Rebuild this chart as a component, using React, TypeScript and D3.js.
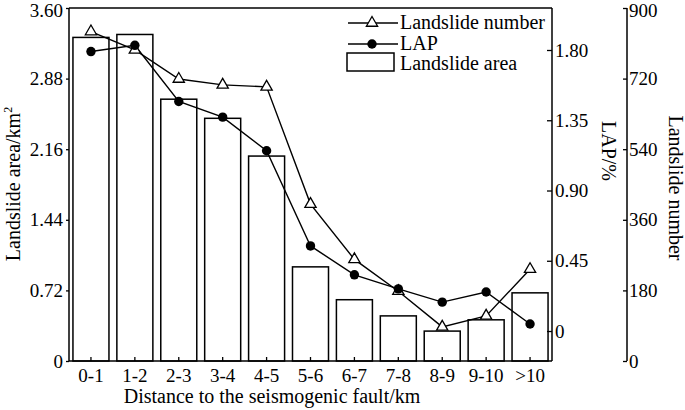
import React, { useEffect, useRef } from "react";
import * as d3 from "d3";

const categories = ["0-1", "1-2", "2-3", "3-4", "4-5", "5-6", "6-7", "7-8", "8-9", "9-10", ">10"];
const landslideArea = [3.30, 3.33, 2.67, 2.475, 2.09, 0.96, 0.625, 0.46, 0.305, 0.42, 0.695];
const lapValues = [1.79, 1.83, 1.47, 1.37, 1.155, 0.545, 0.36, 0.27, 0.185, 0.25, 0.045];
const landslideNumber = [840, 793, 719, 704, 699, 400, 259, 178, 87, 115, 234];
const areaTicks = [0, 0.72, 1.44, 2.16, 2.88, 3.6];
const lapTicks = [0, 0.45, 0.9, 1.35, 1.8];
const numberTicks = [0, 180, 360, 540, 720, 900];

const W = 685;
const H = 410;
const L = 69, R = 552, T = 8, B = 361;
const FONT = "'Liberation Serif', 'Times New Roman', serif";

export default function App() {
  const ref = useRef<SVGSVGElement>(null);

  useEffect(() => {
    const svg = d3.select(ref.current);
    svg.selectAll("*").remove();

    const x = d3.scaleBand<string>().domain(categories).range([L, R]).paddingInner(0.18).paddingOuter(0.09);
    const cx = (c: string) => (x(c) as number) + x.bandwidth() / 2;
    const yArea = d3.scaleLinear().domain([0, 3.6]).range([B, T]);
    const yLap = d3.scaleLinear().domain([-0.192, 2.069]).range([B, T]);
    const yNum = d3.scaleLinear().domain([0, 900]).range([B, T]);

    const g = svg.append("g").attr("font-family", FONT).attr("fill", "#000");

    // bars
    g.selectAll("rect.bar")
      .data(categories)
      .join("rect")
      .attr("class", "bar")
      .attr("x", (c) => x(c) as number)
      .attr("width", x.bandwidth())
      .attr("y", (_c, i) => yArea(landslideArea[i]))
      .attr("height", (_c, i) => B - yArea(landslideArea[i]))
      .attr("fill", "#fff")
      .attr("stroke", "#000")
      .attr("stroke-width", 1.5);

    // frame top line
    g.append("line").attr("x1", L).attr("x2", R).attr("y1", T).attr("y2", T).attr("stroke", "#000").attr("stroke-width", 1.5);

    // left axis
    const left = g.append("g").attr("transform", `translate(${L},0)`)
      .call(d3.axisLeft(yArea).tickValues(areaTicks).tickSize(3).tickPadding(3)
        .tickFormat((d) => (d === 0 ? "0" : d3.format(".2f")(d as number))));
    left.select(".domain").attr("stroke-width", 1.5).attr("d", `M0,${T}V${B}`);
    left.selectAll("text").attr("font-size", 19).attr("font-family", FONT);

    // bottom axis
    const bottom = g.append("g").attr("transform", `translate(0,${B})`)
      .call(d3.axisBottom(x).tickSize(-4).tickPadding(0).tickSizeOuter(0));
    bottom.select(".domain").attr("stroke-width", 1.5).attr("d", `M${L},0H${R}`);
    bottom.selectAll("text").attr("font-size", 19).attr("font-family", FONT).attr("dy", 0).attr("y", 21);

    // right LAP axis
    const rightLap = g.append("g").attr("transform", `translate(${R},0)`)
      .call(d3.axisRight(yLap).tickValues(lapTicks).tickSize(-5).tickPadding(3)
        .tickFormat((d) => (d === 0 ? "0" : d3.format(".2f")(d as number))));
    rightLap.select(".domain").attr("stroke-width", 1.5).attr("d", `M0,${T}V${B}`);
    rightLap.selectAll("text").attr("font-size", 19).attr("font-family", FONT);

    // far right number axis
    const rightNum = g.append("g").attr("transform", `translate(627,0)`)
      .call(d3.axisRight(yNum).tickValues(numberTicks).tickSize(-4).tickPadding(2).tickFormat(d3.format("d")));
    rightNum.select(".domain").attr("stroke-width", 1.5).attr("d", `M0,${T}V${B}`);
    rightNum.selectAll("text").attr("font-size", 19).attr("font-family", FONT);

    // nudge the topmost labels down a little so they are not clipped
    left.selectAll<SVGTextElement, number>("text").filter((d) => d === 3.6).attr("dy", "0.45em");
    rightNum.selectAll<SVGTextElement, number>("text").filter((d) => d === 900).attr("dy", "0.45em");

    svg.selectAll(".tick line").attr("stroke-width", 1.3);

    // lines
    const lapLine = d3.line<number>().x((_d, i) => cx(categories[i])).y((d) => yLap(d));
    const numLine = d3.line<number>().x((_d, i) => cx(categories[i])).y((d) => yNum(d));

    g.append("path").attr("d", numLine(landslideNumber)).attr("fill", "none").attr("stroke", "#000").attr("stroke-width", 1.4);
    g.append("path").attr("d", lapLine(lapValues)).attr("fill", "none").attr("stroke", "#000").attr("stroke-width", 1.4);

    const tri = d3.symbol().type(d3.symbolTriangle).size(55);
    g.selectAll("path.tri")
      .data(landslideNumber)
      .join("path")
      .attr("class", "tri")
      .attr("d", tri() as string)
      .attr("transform", (d, i) => `translate(${cx(categories[i])},${yNum(d)})`)
      .attr("fill", "#fff")
      .attr("stroke", "#000")
      .attr("stroke-width", 1.3);

    g.selectAll("circle.lap")
      .data(lapValues)
      .join("circle")
      .attr("class", "lap")
      .attr("cx", (_d, i) => cx(categories[i]))
      .attr("cy", (d) => yLap(d))
      .attr("r", 4.7)
      .attr("fill", "#000");

    // legend
    const lg = g.append("g");
    lg.append("line").attr("x1", 348).attr("x2", 398).attr("y1", 23).attr("y2", 23).attr("stroke", "#000").attr("stroke-width", 1.4);
    lg.append("path").attr("d", tri() as string).attr("transform", "translate(372,23)").attr("fill", "#fff").attr("stroke", "#000").attr("stroke-width", 1.3);
    lg.append("line").attr("x1", 348).attr("x2", 398).attr("y1", 44).attr("y2", 44).attr("stroke", "#000").attr("stroke-width", 1.4);
    lg.append("circle").attr("cx", 372).attr("cy", 44).attr("r", 4.7).attr("fill", "#000");
    lg.append("rect").attr("x", 347).attr("y", 53).attr("width", 47).attr("height", 18).attr("fill", "#fff").attr("stroke", "#000").attr("stroke-width", 1.5);
    const legendTexts = ["Landslide number", "LAP", "Landslide area"];
    const legendY = [29, 50, 70];
    legendTexts.forEach((t, i) => {
      lg.append("text").attr("x", 400).attr("y", legendY[i]).attr("font-size", 20).text(t);
    });

    // axis titles
    const lt = g.append("text").attr("transform", "translate(20,184) rotate(-90)").attr("text-anchor", "middle").attr("font-size", 20);
    lt.append("tspan").text("Landslide area/km");
    lt.append("tspan").attr("font-size", 12).attr("dy", -8).text("2");

    g.append("text").attr("transform", "translate(602,151) rotate(90)").attr("text-anchor", "middle").attr("font-size", 20).text("LAP/%");
    g.append("text").attr("transform", "translate(668.5,188) rotate(90)").attr("text-anchor", "middle").attr("font-size", 20).text("Landslide number");
    g.append("text").attr("x", 272).attr("y", 403).attr("text-anchor", "middle").attr("font-size", 20).text("Distance to the seismogenic fault/km");
  }, []);

  return (
    <svg ref={ref} width={W} height={H} style={{ position: "absolute", left: 0, top: 0, background: "#fff" }} />
  );
}
